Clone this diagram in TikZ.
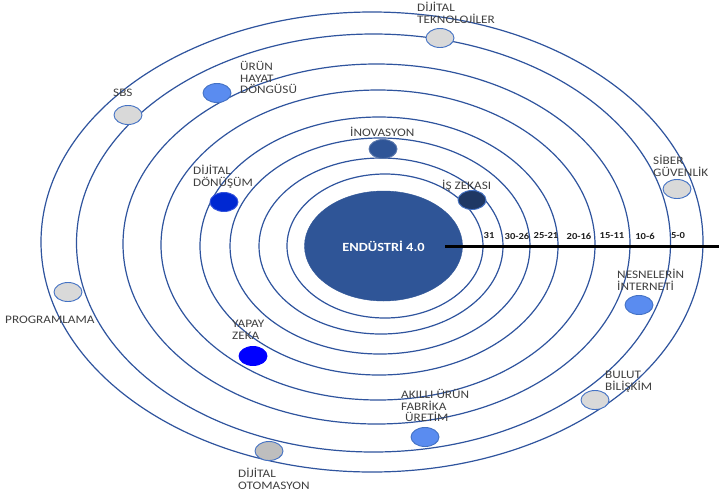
\documentclass[tikz,border=0pt]{standalone}
\usepackage{fontspec}
\usetikzlibrary{shapes.geometric}
\newfontfamily\labfont{Carlito}[FakeStretch=1.15]
\definecolor{ringc}{RGB}{47,84,158}
\definecolor{dotedge}{RGB}{68,114,196}
\definecolor{lgray}{RGB}{217,217,217}
\definecolor{mgray}{RGB}{190,190,190}
\definecolor{cflower}{RGB}{90,140,240}
\definecolor{pureblue}{RGB}{0,0,255}
\definecolor{strongblue}{RGB}{0,40,210}
\definecolor{coreblue}{RGB}{47,85,151}
\definecolor{navy}{RGB}{31,56,100}
\definecolor{labc}{RGB}{64,64,64}
\definecolor{numc}{RGB}{30,30,30}
\begin{document}
\begin{tikzpicture}[x=1pt,y=-1pt,
  ring/.style={draw=ringc,line width=1.2pt},
  dot/.style={ellipse,draw=dotedge,line width=0.9pt,minimum width=28pt,minimum height=19pt,inner sep=0pt},
  lab/.style={font=\labfont\fontsize{11.5}{11.8}\selectfont,text=labc,align=left,anchor=west,inner sep=0pt},
  num/.style={font=\labfont\bfseries\fontsize{9.2}{9.2}\selectfont,text=numc,inner sep=0pt}]
\useasboundingbox (0,0) rectangle (719,496);
\fill[white] (0,0) rectangle (719,496);
% rings
\foreach \cx/\cy/\rx/\ry in {385/246/98/72, 381/246/122/88, 380/246/150/108, 379/246/179/129, 378/245/217/155, 376.5/244/253.5/180, 373.5/243/297/209, 372/242/331/230}
  \draw[ring] (\cx,\cy) ellipse [x radius=\rx pt, y radius=\ry pt];
% core
\node[ellipse,fill=coreblue,draw=coreblue,minimum width=158pt,minimum height=110pt,inner sep=0pt,
  font=\labfont\bfseries\fontsize{12.5}{12.5}\selectfont,text=white] (core) at (383.5,246) {ENDÜSTRİ 4.0};
% axis
\coordinate (axisStart) at (445,246);
\coordinate (axisEnd) at (719,246);
\draw[black,line width=3pt] (axisStart) -- (axisEnd);
% scale numbers
\node[num] (n1) at (489,236) {31};
\node[num] (n2) at (517,236) {30-26};
\node[num] (n3) at (546,236) {25-21};
\node[num] (n4) at (579,236) {20-16};
\node[num] (n5) at (612,236) {15-11};
\node[num] (n6) at (645,236) {10-6};
\node[num] (n7) at (678,236) {5-0};
% dots
\node[dot,fill=lgray] (dTek) at (440,38) {};
\node[dot,fill=cflower] (dUrun) at (217,93) {};
\node[dot,fill=lgray] (dSbs) at (128,115) {};
\node[dot,fill=lgray] (dSiber) at (677,189) {};
\node[dot,fill=cflower] (dNes) at (639,305) {};
\node[dot,fill=lgray] (dBulut) at (595,400) {};
\node[dot,fill=cflower] (dAkilli) at (425,437) {};
\node[dot,fill=mgray] (dOtom) at (269,451) {};
\node[dot,fill=lgray] (dProg) at (68,292) {};
\node[dot,fill=pureblue,draw=pureblue] (dYapay) at (253,356) {};
\node[dot,fill=strongblue,draw=strongblue!80!white] (dDonusum) at (224,202) {};
\node[dot,fill=coreblue,draw=coreblue!80!white] (dInov) at (383,149) {};
\node[dot,fill=navy,draw=dotedge] (dIs) at (472,200) {};
% labels
\node[lab] (lTek) at (417,12.5) {DİJİTAL\\TEKNOLOJİLER};
\node[lab] (lUrun) at (240,77.5) {ÜRÜN\\HAYAT\\DÖNGÜSÜ};
\node[lab] (lSbs) at (113,93) {SBS};
\node[lab] (lSiber) at (653,165.5) {SİBER\\GÜVENLİK};
\node[lab] (lNes) at (617,280) {NESNELERİN\\İNTERNETİ};
\node[lab] (lBulut) at (605,381.5) {BULUT\\BİLİŞKİM};
\node[lab] (lAkilli) at (401,405.5) {AKILLI ÜRÜN\\FABRİKA\\\hspace*{4pt}ÜRETİM};
\node[lab] (lOtom) at (238,479) {DİJİTAL\\OTOMASYON};
\node[lab] (lProg) at (5,320) {PROGRAMLAMA};
\node[lab] (lYapay) at (232,330) {YAPAY\\ZEKA};
\node[lab] (lDonusum) at (193,177) {DİJİTAL\\DÖNÜŞÜM};
\node[lab] (lInov) at (350,132) {İNOVASYON};
\node[lab] (lIs) at (442,186) {İŞ ZEKASI};
\end{tikzpicture}
\end{document}
